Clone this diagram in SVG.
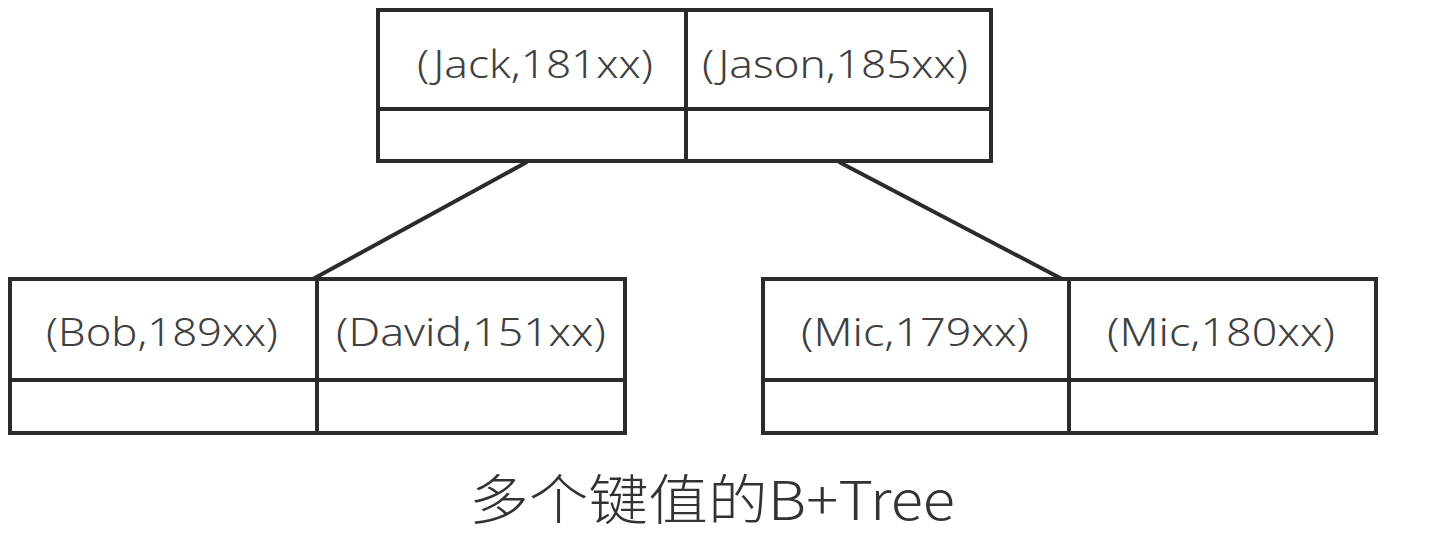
<svg xmlns="http://www.w3.org/2000/svg" width="1446" height="540" viewBox="0 0 1446 540">
<style>
.box{fill:none;stroke:#2b2b2b;stroke-width:4}
.ln{stroke:#2b2b2b;stroke-width:4;fill:none}
.t{font-family:"Noto Sans","Noto Sans CJK SC",sans-serif;font-size:38px;font-weight:300;fill:#404040;text-anchor:middle}
.cap{font-family:"Noto Sans CJK SC","Noto Sans",sans-serif;font-size:54px;font-weight:300;fill:#333;text-anchor:middle}
</style>
<rect width="1446" height="540" fill="#fff"/>
<g id="connectors">
<line class="ln" x1="527" y1="162" x2="313" y2="279"/>
<line class="ln" x1="839" y1="162" x2="1062" y2="279"/>
</g>
<g id="root">
<rect class="box" x="378" y="10" width="613" height="151"/>
<line class="ln" x1="686" y1="10" x2="686" y2="161"/>
<line class="ln" x1="378" y1="109" x2="991" y2="109"/>
<text class="t" x="535" y="78" textLength="236" lengthAdjust="spacingAndGlyphs">(Jack,181xx)</text>
<text class="t" x="835" y="78" textLength="266" lengthAdjust="spacingAndGlyphs">(Jason,185xx)</text>
</g>
<g id="left">
<rect class="box" x="10" y="279" width="615" height="154"/>
<line class="ln" x1="317" y1="279" x2="317" y2="433"/>
<line class="ln" x1="10" y1="380" x2="625" y2="380"/>
<text class="t" x="162" y="346" textLength="232" lengthAdjust="spacingAndGlyphs">(Bob,189xx)</text>
<text class="t" x="471" y="346" textLength="270" lengthAdjust="spacingAndGlyphs">(David,151xx)</text>
</g>
<g id="right">
<rect class="box" x="763" y="279" width="613" height="154"/>
<line class="ln" x1="1069" y1="279" x2="1069" y2="433"/>
<line class="ln" x1="763" y1="380" x2="1376" y2="380"/>
<text class="t" x="915" y="346" textLength="228" lengthAdjust="spacingAndGlyphs">(Mic,179xx)</text>
<text class="t" x="1221" y="346" textLength="228" lengthAdjust="spacingAndGlyphs">(Mic,180xx)</text>
</g>
<text class="cap" x="712" y="520" textLength="486" lengthAdjust="spacingAndGlyphs">多个键值的B+Tree</text>
</svg>
